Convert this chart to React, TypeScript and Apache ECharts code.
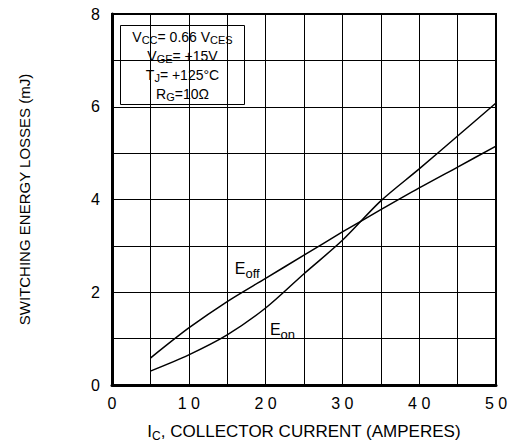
import React, { useEffect, useRef } from "react";
import * as echarts from "echarts";

const currents = [5, 10, 15, 20, 25, 30, 35, 40, 45, 50];
const eOff = [0.58, 1.23, 1.8, 2.3, 2.8, 3.3, 3.78, 4.25, 4.7, 5.15];
const eOn = [0.3, 0.65, 1.08, 1.66, 2.4, 3.12, 3.97, 4.66, 5.37, 6.08];
const xLabels = [0, 10, 20, 30, 40, 50];
const yLabels = [0, 2, 4, 6, 8];
const conditionLines = [
  "{m|V}{s|CC}{m|= 0.66 V}{s|CES}",
  "{m|V}{s|GE}{m|= +15V}",
  "{m|T}{s|J}{m|= +125°C}",
  "{m|R}{s|G}{m|=10Ω}",
];

const FONT = "'Liberation Sans', Arial, sans-serif";

export default function App() {
  const ref = useRef<HTMLDivElement>(null);
  useEffect(() => {
    if (!ref.current) return;
    const chart = echarts.init(ref.current, null, { renderer: "svg" });
    const sub = {
      m: { fontSize: 14, fontFamily: FONT, color: "#000" },
      s: { fontSize: 11, fontFamily: FONT, color: "#000", padding: [7, 0, 0, 0] },
    };
    const spaced = (v: number) => String(v).split("").join(" ");
    chart.setOption({
      animation: false,
      backgroundColor: "#fff",
      grid: {
        left: 112,
        right: 23,
        top: 14,
        bottom: 50,
        show: true,
        borderColor: "#000",
        borderWidth: 2,
      },
      xAxis: {
        type: "value",
        min: 0,
        max: 50,
        interval: 5,
        name: "{m|I}{s|C}{m|, COLLECTOR CURRENT (AMPERES)}",
        nameLocation: "middle",
        nameGap: 36,
        nameTextStyle: {
          rich: {
            m: { fontSize: 17, fontFamily: FONT, color: "#000" },
            s: { fontSize: 12, fontFamily: FONT, color: "#000", padding: [9, 0, 0, 0] },
          },
        },
        axisLine: { show: true, lineStyle: { color: "#000", width: 3 } },
        axisTick: { show: false },
        axisLabel: {
          color: "#000",
          fontSize: 16,
          fontFamily: FONT,
          margin: 10,
          formatter: (v: number) => (xLabels.includes(v) ? spaced(v) : ""),
        },
        splitLine: { show: true, lineStyle: { color: "#000", width: 1 } },
      },
      yAxis: {
        type: "value",
        min: 0,
        max: 8,
        interval: 1,
        name: "SWITCHING ENERGY LOSSES (mJ)",
        nameLocation: "middle",
        nameGap: 80,
        nameTextStyle: { fontSize: 15, fontFamily: FONT, color: "#000" },
        axisLine: { show: true, lineStyle: { color: "#000", width: 3 } },
        axisTick: { show: false },
        axisLabel: {
          color: "#000",
          fontSize: 16,
          fontFamily: FONT,
          margin: 12,
          formatter: (v: number) => (yLabels.includes(v) ? String(v) : ""),
        },
        splitLine: { show: true, lineStyle: { color: "#000", width: 1 } },
      },
      series: [
        {
          name: "Eoff",
          type: "line",
          data: currents.map((c, i) => [c, eOff[i]]),
          smooth: 0.3,
          symbol: "none",
          lineStyle: { color: "#000", width: 1.5 },
          markPoint: {
            symbol: "rect",
            symbolSize: 0,
            data: [{ coord: [17.6, 2.52] }],
            label: {
              show: true,
              formatter: "{m|E}{s|off}",
              rich: {
                m: { fontSize: 16, fontFamily: FONT, color: "#000" },
                s: { fontSize: 13, fontFamily: FONT, color: "#000", padding: [10, 0, 0, 0] },
              },
            },
          },
        },
        {
          name: "Eon",
          type: "line",
          data: currents.map((c, i) => [c, eOn[i]]),
          smooth: 0.3,
          symbol: "none",
          lineStyle: { color: "#000", width: 1.5 },
          markPoint: {
            symbol: "rect",
            symbolSize: 0,
            data: [{ coord: [22.2, 1.2] }],
            label: {
              show: true,
              formatter: "{m|E}{s|on}",
              rich: {
                m: { fontSize: 16, fontFamily: FONT, color: "#000" },
                s: { fontSize: 13, fontFamily: FONT, color: "#000", padding: [10, 0, 0, 0] },
              },
            },
          },
        },
      ],
      graphic: [
        {
          type: "group",
          left: 120,
          top: 25,
          children: [
            {
              type: "rect",
              shape: { x: 0, y: 0, width: 124, height: 79 },
              style: { fill: "#fff", stroke: "#000", lineWidth: 1 },
            },
            ...conditionLines.map((t, i) => ({
              type: "text",
              x: 62,
              y: 11 + i * 19,
              style: {
                text: t,
                rich: sub,
                align: "center",
                verticalAlign: "middle",
              },
            })),
          ],
        },
      ],
    });
    return () => chart.dispose();
  }, []);
  return (
    <div
      ref={ref}
      style={{ position: "absolute", left: 0, top: 0, width: 519, height: 447 }}
    />
  );
}
